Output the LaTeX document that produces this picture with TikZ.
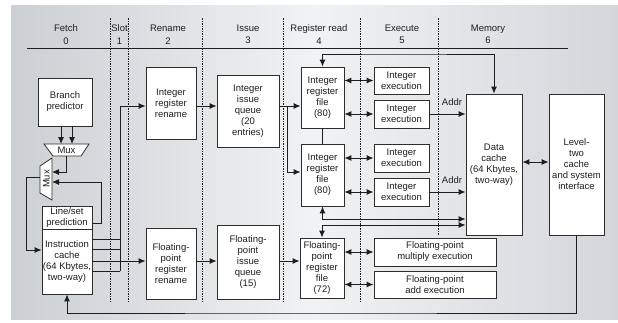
\documentclass[tikz,border=0pt]{standalone}
\usepackage{fontspec}
\setmainfont{Liberation Sans}
\usetikzlibrary{arrows.meta}
\definecolor{ink}{RGB}{30,30,30}
\definecolor{edge}{RGB}{45,45,45}
\definecolor{panelL}{RGB}{204,207,211}
\definecolor{panelM}{RGB}{241,242,243}
\definecolor{panelR}{RGB}{212,214,218}
\begin{document}
\begin{tikzpicture}[x=1pt,y=-1pt,
  font=\fontsize{9.5}{11}\selectfont,
  box/.style={draw=edge, line width=0.8pt, fill=white, align=center, inner sep=0pt, text=ink},
  dims/.style 2 args={minimum width=#1pt, minimum height=#2pt},
  conn/.style={draw=ink, line width=1pt},
  arr/.style={conn, -{Latex[length=7pt,width=6pt]}},
  biarr/.style={conn, {Latex[length=7pt,width=6pt]}-{Latex[length=7pt,width=6pt]}},
  stagesep/.style={draw=ink, line width=0.5pt, dash pattern=on 2pt off 1.2pt on 0.6pt off 1.2pt},
  stagelbl/.style={align=center, text=ink, inner sep=0pt, font=\fontsize{9.5}{12.5}\selectfont},
  lbl/.style={text=ink, inner sep=0pt},
  muxshape/.style={draw=edge, line width=0.8pt, fill=white},
]
\useasboundingbox (0,0) rectangle (618,322);
\fill[white] (0,0) rectangle (618,322);
\shade[left color=panelL, right color=panelR, middle color=panelM] (11,5) rectangle (618,319);

% stage headings
\node[stagelbl] (sfetch)  at (66,34.5)  {Fetch\\0};
\node[stagelbl] (sslot)   at (119.5,34.5) {Slot\\1};
\node[stagelbl] (srename) at (168,34.5) {Rename\\2};
\node[stagelbl] (sissue)  at (248,34.5) {Issue\\3};
\node[stagelbl] (sread)   at (319,34.5) {Register read\\4};
\node[stagelbl] (sexec)   at (402,34.5) {Execute\\5};
\node[stagelbl] (smem)    at (488,34.5) {Memory\\6};
\draw[ink, line width=1pt] (27,48) -- (568,48);

% stage boundaries
\foreach \x in {110,128,202,283,360} \draw[stagesep] (\x,18) -- (\x,302);
\draw[stagesep] (438,18) -- (438,236);

% fetch
\node[box, dims={54}{48}] (bp) at (65,102) {Branch\\predictor};
\node[box, dims={50}{23}] (lsp) at (67,217.5) {Line/set\\prediction};
\node[box, dims={50}{65}] (icache) at (67,261.5) {Instruction\\cache\\(64 Kbytes,\\two-way)};

\draw[muxshape] (44,144) -- (89,144) -- (81,156) -- (53,156) -- cycle;
\node[lbl] (muxh) at (66.5,150.5) {Mux};
\draw[muxshape] (52,158) -- (52,200) -- (40,193) -- (40,166) -- cycle;
\node[lbl, rotate=90] (muxv) at (46.5,179) {Mux};

% rename / issue
\node[box, dims={50}{72}] (irn) at (171,103) {Integer\\register\\rename};
\node[box, dims={50}{71}] (frn) at (171,263.5) {Floating-\\point\\register\\rename};
\node[box, dims={62}{72}] (iiq) at (248,111) {Integer\\issue\\queue\\(20\\entries)};
\node[box, dims={62}{74}] (fiq) at (248,262) {Floating-\\point\\issue\\queue\\(15)};

% register read
\node[box, dims={43}{61}] (irf1) at (322.5,97.5) {Integer\\register\\file\\(80)};
\node[box, dims={43}{62}] (irf2) at (322.5,175) {Integer\\register\\file\\(80)};
\node[box, dims={44}{60}] (frf) at (322,268) {Floating-\\point\\register\\file\\(72)};

% execute
\node[box, dims={55}{27}] (ie1) at (401.5,80.5) {Integer\\execution};
\node[box, dims={55}{28}] (ie2) at (401.5,114) {Integer\\execution};
\node[box, dims={55}{28}] (ie3) at (401.5,158) {Integer\\execution};
\node[box, dims={55}{28}] (ie4) at (401.5,192) {Integer\\execution};
\node[box, dims={122}{28}] (fmul) at (435,252) {Floating-point\\multiply execution};
\node[box, dims={122}{27}] (fadd) at (435,284.5) {Floating-point\\add execution};

% memory
\node[box, dims={56}{141}] (dc) at (494,164.5) {Data\\cache\\(64 Kbytes,\\two-way)};
\node[box, dims={55}{141}] (l2) at (576.5,164.5) {Level-\\two\\cache\\and system\\interface};

% next-fetch selection
\coordinate (bpA) at (61,144);
\coordinate (bpB) at (72,144);
\draw[arr] (bp.south -| bpA) -- (bpA);
\draw[arr] (bp.south -| bpB) -- (bpB);
\coordinate (muxhout) at (66.5,156);
\coordinate (muxvin1) at (52,172);
\coordinate (muxvin2) at (52,182);
\draw[arr] (muxhout) |- (muxvin1);
\coordinate (lspout) at (92,223);
\coordinate (lspturn) at (101,223);
\draw[arr] (lspout) -- (lspturn) |- (muxvin2);
\coordinate (muxvout) at (40,177);
\coordinate (vturn) at (26,250);
\draw[arr] (muxvout) -| (vturn) -- (icache.west |- vturn);

% instruction slotting to rename
\coordinate (rbus) at (120,106);
\foreach \y in {239,249,271} \draw[conn] (icache.east |- 0,\y) -- (rbus |- 0,\y);
\draw[conn] (rbus |- 0,271) -- (rbus);
\draw[arr] (rbus) -- (irn.west |- rbus);
\draw[arr] (icache.east |- 0,261) -- (frn.west |- 0,261);

% rename to issue to register files
\draw[arr] (irn.east |- rbus) -- (iiq.west |- rbus);
\coordinate (ibus) at (287,106);
\draw[arr] (iiq.east |- ibus) -- (irf1.west |- ibus);
\draw[arr] (ibus) |- (irf2.west |- 0,172);
\draw[arr] (frn.east |- 0,261) -- (fiq.west |- 0,261);
\draw[arr] (fiq.east |- 0,261) -- (frf.west |- 0,261);
\draw[conn] (irf1.south) -- (irf2.north);

% register files to execution units
\draw[biarr] (irf1.east |- ie1) -- (ie1.west);
\draw[biarr] (irf1.east |- ie2) -- (ie2.west);
\draw[biarr] (irf2.east |- ie3) -- (ie3.west);
\draw[biarr] (irf2.east |- ie4) -- (ie4.west);
\draw[biarr] (frf.east |- fmul) -- (fmul.west);
\draw[biarr] (frf.east |- fadd) -- (fadd.west);

% addresses and data
\draw[arr] (ie2.east) -- (dc.west |- ie2);
\node[lbl] (addr1) at (452,102) {Addr};
\draw[arr] (ie4.east) -- (dc.west |- ie4);
\node[lbl] (addr2) at (452,180) {Addr};
\coordinate (topbus) at (400,54);
\draw[biarr] (irf1.north) |- (topbus) -| (dc.north);
\coordinate (b1) at (400,219);
\coordinate (b2) at (400,225);
\draw[biarr] (irf2.south) |- (dc.west |- b1);
\draw[biarr] (frf.north) |- (dc.west |- b2);
\draw[biarr] (dc.east |- 0,162) -- (l2.west |- 0,162);

% refill path back to the instruction cache
\coordinate (fb) at (300,313);
\draw[arr] (l2.south) |- (fb) -| (icache.south);
\end{tikzpicture}
\end{document}
